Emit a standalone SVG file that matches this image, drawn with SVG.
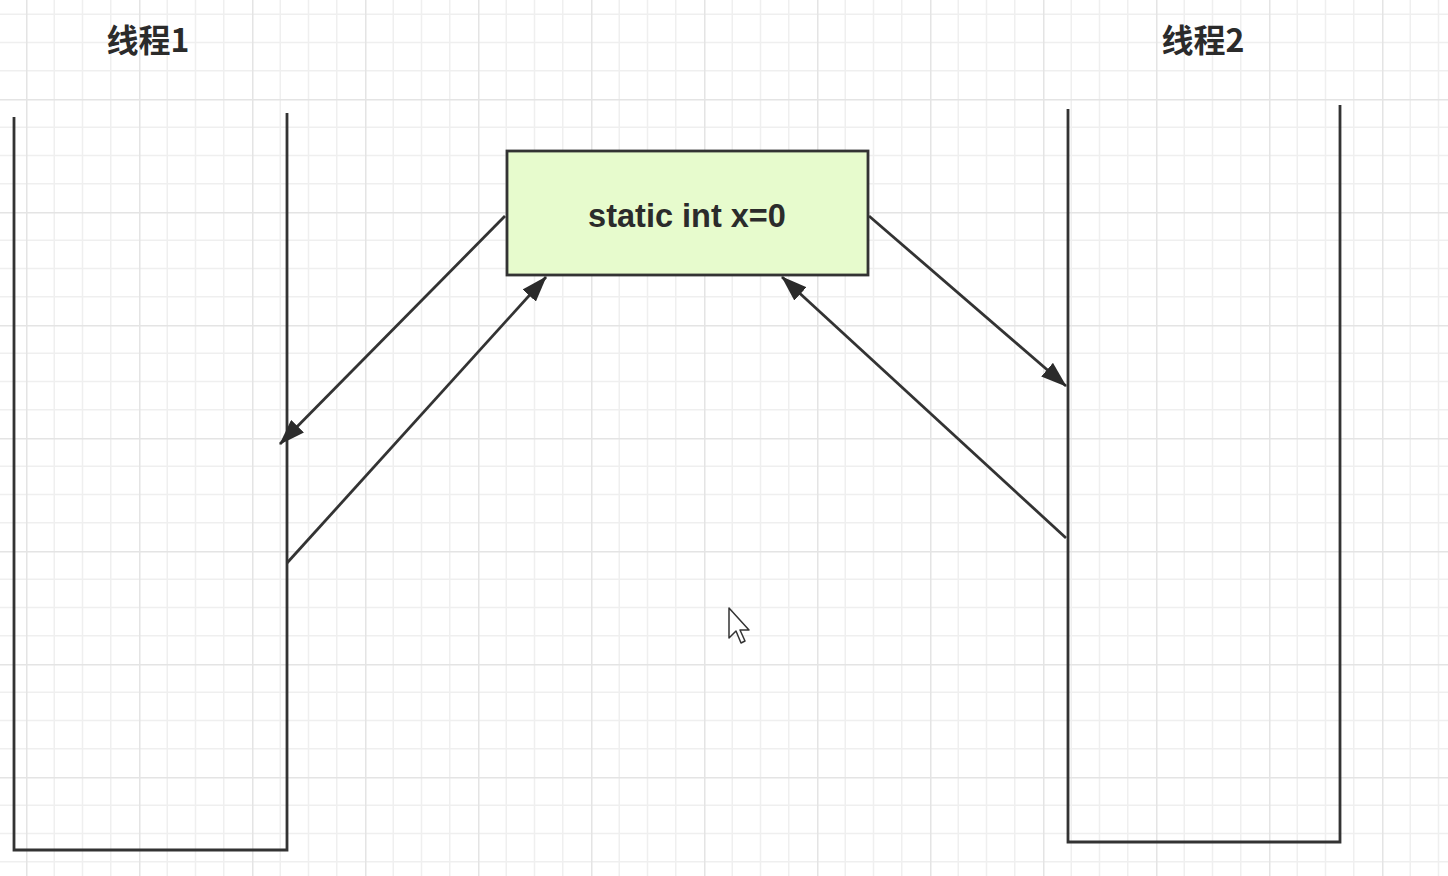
<svg xmlns="http://www.w3.org/2000/svg" width="1448" height="876" viewBox="0 0 1448 876">
<style>
.title{font-family:"Noto Sans CJK SC","Liberation Sans",sans-serif;font-weight:bold;font-size:32px;fill:#2b2b2b}
.lbl{font-family:"Liberation Sans","Noto Sans",sans-serif;font-weight:bold;font-size:32.5px;fill:#2b2b2b}
.wall{fill:none;stroke:#333;stroke-width:2.8}
.conn{fill:none;stroke:#333;stroke-width:2.8}
</style>
<defs>
<pattern id="grid" patternUnits="userSpaceOnUse" x="26" y="99" width="113" height="113">
<path d="M28.25 0V113M56.5 0V113M84.75 0V113M0 28.25H113M0 56.5H113M0 84.75H113" stroke="#efefef" stroke-width="1.5" fill="none"/>
<path d="M0.5 0V113M0 0.5H113" stroke="#e4e4e4" stroke-width="2" fill="none"/>
</pattern>
<marker id="ah" viewBox="0 0 26 18" refX="25" refY="9" markerWidth="26" markerHeight="18" markerUnits="userSpaceOnUse" orient="auto">
<path d="M0 0L26 9L0 18Z" fill="#2b2b2b"/>
</marker>
</defs>
<rect width="1448" height="876" fill="#ffffff"/>
<rect width="1448" height="876" fill="url(#grid)"/>

<g id="thread1">
<text class="title" x="148" y="52" text-anchor="middle">线程1</text>
<path class="wall" d="M14 117V850H287V113"/>
</g>

<g id="thread2">
<text class="title" x="1203" y="52" text-anchor="middle">线程2</text>
<path class="wall" d="M1068 109V842H1340V105"/>
</g>

<g id="shared">
<rect x="507" y="151" width="361" height="124" fill="#e7fbcd" stroke="#333" stroke-width="2.8"/>
<text class="lbl" x="687" y="227" text-anchor="middle">static int x=0</text>
</g>

<g id="connectors">
<line class="conn" x1="505" y1="216" x2="280" y2="444" marker-end="url(#ah)"/>
<line class="conn" x1="287" y1="563" x2="546" y2="277" marker-end="url(#ah)"/>
<line class="conn" x1="869" y1="216" x2="1066" y2="386" marker-end="url(#ah)"/>
<line class="conn" x1="1066" y1="538" x2="782" y2="277" marker-end="url(#ah)"/>
</g>

<g id="cursor">
<path d="M729 608V638L736 631L741 643L745 641L740 630L749 630Z" fill="#ffffff" stroke="#333" stroke-width="1.5" stroke-linejoin="round"/>
</g>
</svg>
